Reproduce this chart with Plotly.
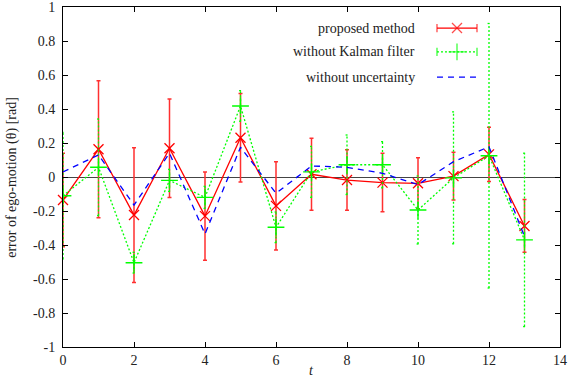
import plotly.graph_objects as go

# ---- data ----
t = list(range(14))
proposed = [-0.135, 0.163, -0.224, 0.169, -0.23, 0.231, -0.17, 0.016, -0.018, -0.033, -0.037, 0.005, 0.133, -0.288]
proposed_err = [0.275, 0.403, 0.396, 0.29, 0.26, 0.26, 0.26, 0.212, 0.178, 0.172, 0.15, 0.14, 0.16, 0.155]
no_kalman = [-0.11, 0.057, -0.504, -0.02, -0.12, 0.418, -0.296, 0.03, 0.072, 0.072, -0.194, -0.005, 0.125, -0.37]
no_kalman_err = [0.373, 0.284, 0.061, 0.065, 0.065, 0.09, 0.09, 0.15, 0.175, 0.136, 0.2, 0.388, 0.778, 0.51]
no_uncert = [0.03, 0.13, -0.165, 0.14, -0.335, 0.175, -0.096, 0.065, 0.057, 0.022, -0.045, 0.09, 0.178, -0.35]

series_names = ["proposed method", "without Kalman filter", "without uncertainty"]
x_ticks = [0, 2, 4, 6, 8, 10, 12, 14]
x_tick_labels = ["0", "2", "4", "6", "8", "10", "12", "14"]
y_ticks = [1, 0.8, 0.6, 0.4, 0.2, 0, -0.2, -0.4, -0.6, -0.8, -1]
y_tick_labels = ["1", "0.8", "0.6", "0.4", "0.2", "0", "-0.2", "-0.4", "-0.6", "-0.8", "-1"]

RED = "#ff0000"
GREEN = "#00ff00"
BLUE = "#0000ff"
FONT = "Liberation Serif, Times New Roman, Times, serif"

fig = go.Figure()

# proposed method (solid red, error bars)
fig.add_trace(go.Scatter(
    x=t, y=proposed, mode="lines+markers",
    line=dict(color=RED, width=1.3),
    marker=dict(symbol="x-thin", size=10, line=dict(color=RED, width=1.3)),
    error_y=dict(type="data", array=proposed_err, visible=True,
                 color="#ff3030", thickness=1.5, width=2),
    showlegend=False, cliponaxis=False,
))

# without Kalman filter: dotted error bars built from data
cap = 0.04
ex, ey = [], []
for xi, yi, ei in zip(t, no_kalman, no_kalman_err):
    ex += [xi, xi, None, xi - cap, xi + cap, None, xi - cap, xi + cap, None]
    ey += [yi - ei, yi + ei, None, yi + ei, yi + ei, None, yi - ei, yi - ei, None]
fig.add_trace(go.Scatter(
    x=ex, y=ey, mode="lines",
    line=dict(color=GREEN, width=1.3, dash="2px,2px"),
    showlegend=False, hoverinfo="skip", connectgaps=False,
))
fig.add_trace(go.Scatter(
    x=t, y=no_kalman, mode="lines+markers",
    line=dict(color=GREEN, width=1.3, dash="2px,2px"),
    marker=dict(symbol="cross-thin", size=12, line=dict(color=GREEN, width=1.4)),
    showlegend=False,
))

# without uncertainty (dashed blue)
fig.add_trace(go.Scatter(
    x=t, y=no_uncert, mode="lines",
    line=dict(color=BLUE, width=1.3, dash="6px,5px"),
    showlegend=False,
))

# ---- custom gnuplot-style legend (text right, sample to its right) ----
leg_y = [0.938, 0.868, 0.794]
sx0, sx1 = 0.7525, 0.833
sxm = (sx0 + sx1) / 2
fig.add_trace(go.Scatter(
    x=[sx0, sxm, sx1], y=[leg_y[0]] * 3, xaxis="x2", yaxis="y2",
    mode="lines+markers", line=dict(color=RED, width=1.3),
    marker=dict(symbol=["line-ns", "x-thin", "line-ns"], size=[6, 10, 6],
                line=dict(color=RED, width=1.3)),
    showlegend=False, hoverinfo="skip",
))
fig.add_trace(go.Scatter(
    x=[sx0, sxm, sx1], y=[leg_y[1]] * 3, xaxis="x2", yaxis="y2",
    mode="lines+markers", line=dict(color=GREEN, width=1.3, dash="2px,2px"),
    marker=dict(symbol=["line-ns", "cross-thin", "line-ns"], size=[6, 12, 6],
                line=dict(color=GREEN, width=1.4)),
    showlegend=False, hoverinfo="skip",
))
fig.add_trace(go.Scatter(
    x=[sx0, sx1], y=[leg_y[2]] * 2, xaxis="x2", yaxis="y2",
    mode="lines", line=dict(color=BLUE, width=1.3, dash="6px,5px"),
    showlegend=False, hoverinfo="skip",
))

annotations = []
for name, yy in zip(series_names, leg_y):
    annotations.append(dict(
        text=name, x=0.712, y=yy, xref="paper", yref="paper",
        xanchor="right", yanchor="middle", showarrow=False,
        font=dict(family=FONT, size=14, color="#222"),
    ))
annotations.append(dict(
    text="error of ego-motion (θ) [rad]", textangle=-90,
    x=-0.103, y=0.5, xref="paper", yref="paper",
    xanchor="center", yanchor="middle", showarrow=False,
    font=dict(family=FONT, size=14, color="#222"),
))
annotations.append(dict(
    text="<i>t</i>", x=0.5, y=-0.068, xref="paper", yref="paper",
    xanchor="center", yanchor="middle", showarrow=False,
    font=dict(family=FONT, size=14, color="#222"),
))

axis_common = dict(
    showgrid=False, showline=True, linecolor="black", linewidth=1,
    mirror="ticks", ticks="inside", ticklen=5, tickcolor="black", tickwidth=1,
    tickfont=dict(family=FONT, size=14, color="#222"), automargin=False,
    ticklabeloverflow="allow",
)

fig.update_layout(
    width=569, height=379,
    margin=dict(l=63, r=9, t=7, b=32, autoexpand=False),
    paper_bgcolor="white", plot_bgcolor="white",
    showlegend=False,
    annotations=annotations,
    xaxis=dict(range=[0, 14], tickvals=x_ticks, ticktext=x_tick_labels,
               zeroline=False, **axis_common),
    yaxis=dict(range=[-1, 1], tickvals=y_ticks, ticktext=y_tick_labels,
               zeroline=True, zerolinecolor="#444", zerolinewidth=1,
               ticklabelstandoff=4, **axis_common),
    xaxis2=dict(range=[0, 1], overlaying="x", visible=False, fixedrange=True),
    yaxis2=dict(range=[0, 1], overlaying="y", visible=False, fixedrange=True),
)

fig.write_html("out.html", config={"displayModeBar": False},
               post_script="document.body.style.margin='0px';")
